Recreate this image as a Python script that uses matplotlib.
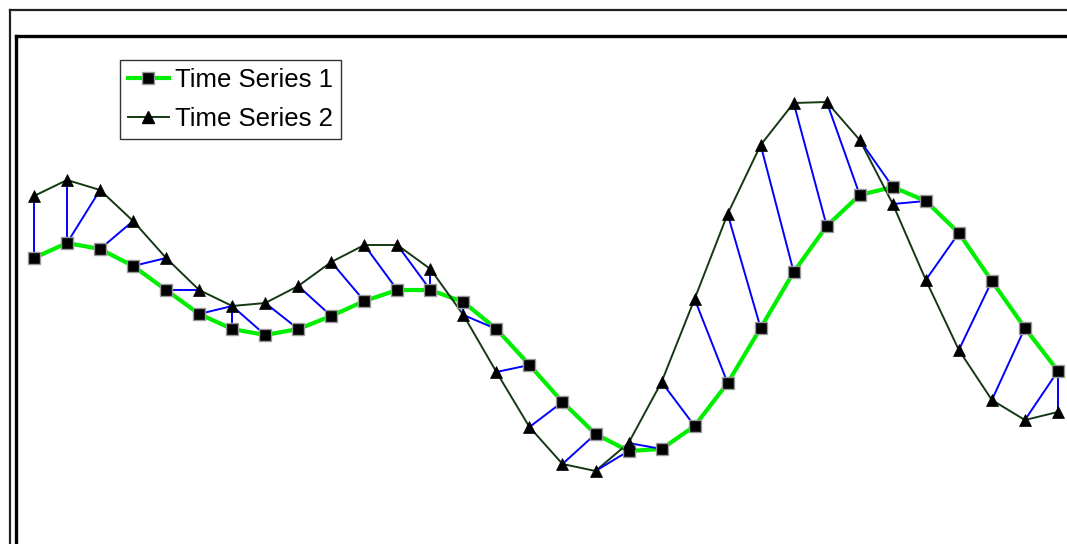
import matplotlib
matplotlib.use('Agg')
import matplotlib.pyplot as plt
from matplotlib.lines import Line2D

plt.rcParams['font.family'] = ['Liberation Sans', 'DejaVu Sans']

# two time series (arbitrary units) and the warping path between them
series_1 = [2.22, 2.37, 2.31, 2.14, 1.90, 1.66, 1.51, 1.45, 1.51, 1.64, 1.79, 1.90,
            1.90, 1.78, 1.51, 1.15, 0.78, 0.46, 0.29, 0.31, 0.54, 0.97, 1.52, 2.08,
            2.54, 2.85, 2.93, 2.79, 2.47, 1.99, 1.52, 1.09]
series_2 = [2.84, 3.00, 2.90, 2.59, 2.22, 1.90, 1.74, 1.77, 1.94, 2.18, 2.35, 2.35,
            2.11, 1.65, 1.08, 0.53, 0.16, 0.09, 0.37, 0.98, 1.81, 2.66, 3.35, 3.77,
            3.78, 3.40, 2.76, 2.00, 1.30, 0.80, 0.60, 0.68]
path_1 = [0, 1, 1, 2, 3, 4, 5, 6, 7, 8, 9, 10, 11, 12, 12, 13, 14, 15, 16, 17, 18, 18,
          19, 20, 21, 22, 23, 24, 25, 26, 27, 28, 29, 30, 31, 31]
path_2 = [0, 1, 2, 3, 4, 5, 6, 6, 6, 7, 8, 9, 10, 11, 12, 13, 13, 14, 15, 16, 17, 18,
          18, 19, 20, 21, 22, 23, 24, 25, 26, 27, 28, 29, 30, 31]
labels = ['Time Series 1', 'Time Series 2']

W, H = 1067, 544
fig = plt.figure(figsize=(W / 100, H / 100), dpi=100)

# outer frame (left and top edges visible)
fig.add_artist(Line2D([10 / W, 10 / W], [-0.1, 1 - 10 / H], color='#222222', lw=1.6,
                      transform=fig.transFigure))
fig.add_artist(Line2D([10 / W, 1.1], [1 - 10 / H, 1 - 10 / H], color='#222222', lw=1.6,
                      transform=fig.transFigure))

# plot area extends past the right and bottom edges
left, right, top, bottom = 16, 1090, 36, 580
ax = fig.add_axes([left / W, (H - bottom) / H, (right - left) / W, (bottom - top) / H])
ax.set_xlim((left - 34) / 33.03, (right - 34) / 33.03)
ax.set_ylim((480 - bottom) / 100, (480 - top) / 100)
ax.set_xticks([])
ax.set_yticks([])
for s in ['right', 'bottom']:
    ax.spines[s].set_visible(False)
for s in ['left', 'top']:
    ax.spines[s].set_linewidth(2.4)
    ax.spines[s].set_color('black')

x = list(range(len(series_1)))

ax.plot(x, series_1, color='#00ee00', lw=3.0, zorder=2)
ax.plot(x, series_2, color='#143814', lw=1.4, zorder=2)

for i, j in zip(path_1, path_2):
    ax.plot([x[i], x[j]], [series_1[i], series_2[j]], color='#0000ff', lw=1.4, zorder=3)

ax.plot(x, series_1, ls='none', marker='s', ms=8.5, mfc='black', mec='#999999', mew=1.0, zorder=4)
ax.plot(x, series_2, ls='none', marker='^', ms=8.5, mfc='black', mec='black', mew=0.5, zorder=4)

handles = [
    Line2D([], [], color='#00ee00', lw=3.0, marker='s', ms=8, mfc='black', mec='#999999'),
    Line2D([], [], color='#143814', lw=1.4, marker='^', ms=8, mfc='black', mec='black'),
]
leg = fig.legend(handles, labels, loc='upper left', bbox_to_anchor=(120 / W, 1 - 60 / H),
                 fontsize=18.5, frameon=True, fancybox=False, borderaxespad=0,
                 borderpad=0.3, handlelength=1.6, handletextpad=0.25, labelspacing=0.6)
leg.get_frame().set_edgecolor('black')
leg.get_frame().set_linewidth(1.0)

fig.savefig('out.png', dpi=100)
